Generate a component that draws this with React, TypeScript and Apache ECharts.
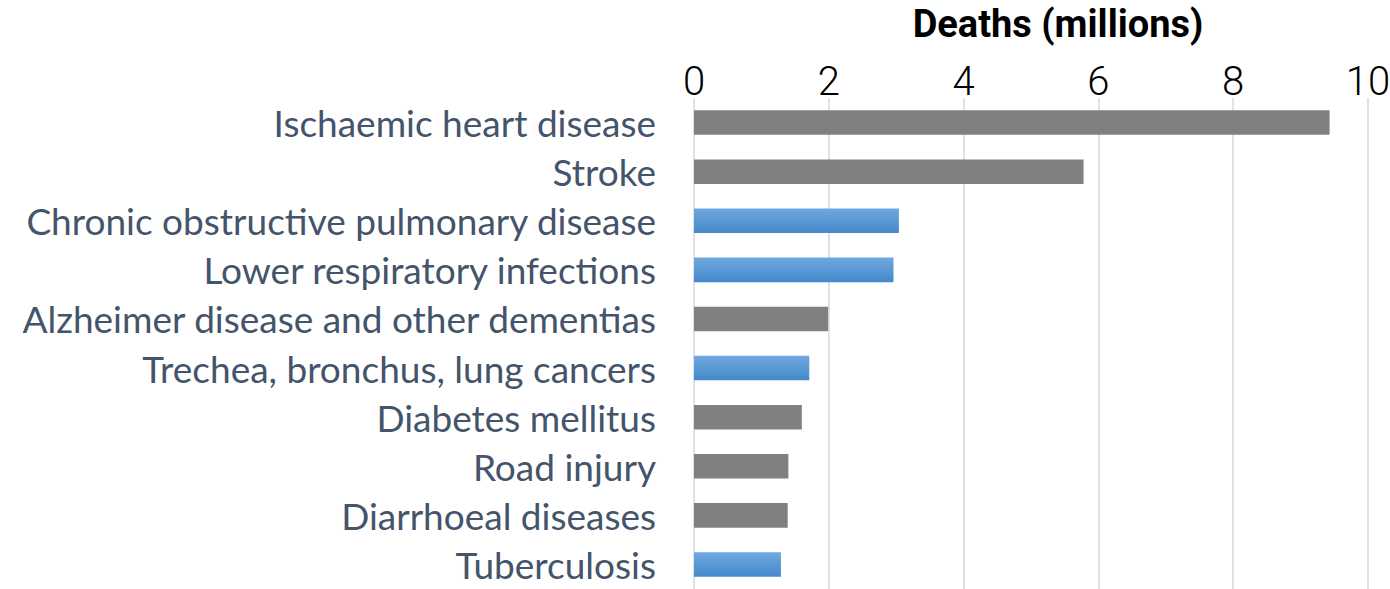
import React, { useEffect, useRef } from "react";
import * as echarts from "echarts";

const categories = [
  "Ischaemic heart disease",
  "Stroke",
  "Chronic obstructive pulmonary disease",
  "Lower respiratory infections",
  "Alzheimer disease and other dementias",
  "Trechea, bronchus, lung cancers",
  "Diabetes mellitus",
  "Road injury",
  "Diarrhoeal diseases",
  "Tuberculosis",
];
const deaths = [9.43, 5.78, 3.04, 2.96, 1.99, 1.71, 1.6, 1.4, 1.39, 1.29];
const respiratory = [false, false, true, true, false, true, false, false, false, true];
const xTicks = [0, 2, 4, 6, 8, 10];
const axisTitle = "Deaths (millions)";

export default function App() {
  const ref = useRef<HTMLDivElement>(null);
  useEffect(() => {
    if (!ref.current) return;
    const chart = echarts.init(ref.current, null, { renderer: "svg" });
    const blue = new echarts.graphic.LinearGradient(0, 0, 0, 1, [
      { offset: 0, color: "#70A8DE" },
      { offset: 1, color: "#4489CB" },
    ]);
    chart.setOption({
      animation: false,
      title: {
        text: axisTitle,
        left: 1058,
        textAlign: "center",
        top: 5,
        padding: 0,
        textStyle: { fontFamily: "Roboto", fontWeight: "bold", fontSize: 38, color: "#000" },
      },
      grid: {
        left: 694,
        right: 22,
        top: 98,
        bottom: 0,
        containLabel: false,
        outerBoundsMode: "none",
      },
      xAxis: {
        type: "value",
        position: "top",
        min: xTicks[0],
        max: xTicks[xTicks.length - 1],
        interval: 2,
        axisLine: { show: false },
        axisTick: { show: false },
        axisLabel: {
          margin: 1,
          padding: [0, 0, -4, 0],
          fontFamily: "Roboto",
          fontWeight: 300,
          fontSize: 40,
          color: "#000",
        },
        splitLine: { show: true, lineStyle: { color: "#DDE1E8", width: 2 } },
      },
      yAxis: {
        type: "category",
        inverse: true,
        data: categories,
        axisLine: { show: false },
        axisTick: { show: false },
        axisLabel: { margin: 38, fontFamily: "Lato", fontSize: 37, color: "#44546A" },
      },
      series: [
        {
          type: "bar",
          barCategoryGap: "50%",
          data: deaths.map((v, i) => ({
            value: v,
            itemStyle: { color: respiratory[i] ? blue : "#808080" },
          })),
        },
      ],
    });
    return () => chart.dispose();
  }, []);
  return <div ref={ref} style={{ position: "absolute", left: 0, top: 0, width: 1390, height: 589 }} />;
}
